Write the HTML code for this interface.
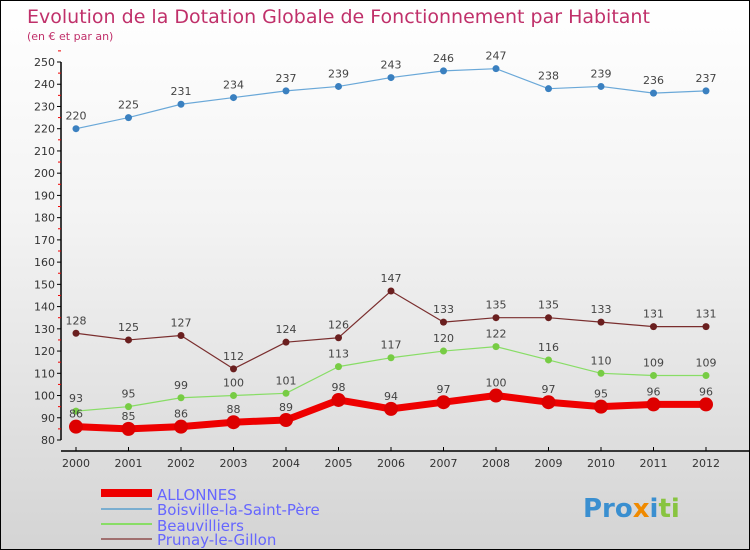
<!DOCTYPE html>
<html><head><meta charset="utf-8"><style>
body{margin:0}
#c{width:748px;height:548px;border:1px solid #000;background:linear-gradient(#fff 0%,#f3f3f3 40%,#d4d4d4 100%);position:relative;font-family:"DejaVu Sans","Liberation Sans",sans-serif;overflow:hidden}
</style></head><body>
<div id="c">
<svg id="s" width="748" height="548" xmlns="http://www.w3.org/2000/svg">
<text x="26" y="22" font-size="19" fill="#c0306a">Evolution de la Dotation Globale de Fonctionnement par Habitant</text>
<text x="26" y="39" font-size="11" fill="#c0306a">(en € et par an)</text>
<g id="axes"></g><g id="series"></g>
<g>
<line x1="100" y1="492" x2="151" y2="492" stroke="#e00" stroke-width="8"/>
<text x="156" y="499" font-size="15" fill="#66f">ALLONNES</text>
<line x1="100" y1="508" x2="151" y2="508" stroke="#7aaed0" stroke-width="2"/>
<text x="156" y="514" font-size="15" fill="#66f">Boisville-la-Saint-Père</text>
<line x1="100" y1="523" x2="151" y2="523" stroke="#88dd66" stroke-width="2"/>
<text x="156" y="530" font-size="15" fill="#66f">Beauvilliers</text>
<line x1="100" y1="538" x2="151" y2="538" stroke="#a07070" stroke-width="2"/>
<text x="156" y="544" font-size="15" fill="#66f">Prunay-le-Gillon</text>
</g>
<text x="582" y="516" font-size="26" font-weight="bold"><tspan fill="#3a8fd0">Pro</tspan><tspan fill="#f08a00">x</tspan><tspan fill="#3a8fd0">i</tspan><tspan fill="#88c440">ti</tspan></text>
</svg></div>
<script>
const years=[2000,2001,2002,2003,2004,2005,2006,2007,2008,2009,2010,2011,2012];
const allonnes=[86,85,86,88,89,98,94,97,100,97,95,96,96];
const boisville=[220,225,231,234,237,239,243,246,247,238,239,236,237];
const beauvilliers=[93,95,99,100,101,113,117,120,122,116,110,109,109];
const prunay=[128,125,127,112,124,126,147,133,135,135,133,131,131];
const yTicks=[80,90,100,110,120,130,140,150,160,170,180,190,200,210,220,230,240,250];
const NS="http://www.w3.org/2000/svg";
function x(i){return 75+i*52.5;}
function y(v){return 439-(v-80)*(378/170);}
function mk(t,a,p){const e=document.createElementNS(NS,t);for(const k in a)e.setAttribute(k,a[k]);if(p)p.appendChild(e);return e;}
const ax=document.getElementById('axes'),se=document.getElementById('series');
let a=mk('line',{x1:60,y1:y(250),x2:60,y2:y(80),stroke:'#000','stroke-width':1.5},ax);

yTicks.forEach(v=>{mk('line',{x1:56,y1:y(v),x2:60,y2:y(v),stroke:'#000'},ax);
mk('line',{x1:57,y1:y(v+5),x2:60,y2:y(v+5),stroke:'#e00'},ax);
const t=mk('text',{x:54,y:y(v)+4,'font-size':11,fill:'#333','text-anchor':'end'},ax);t.textContent=v;
});
a=mk('line',{x1:60,y1:450,x2:748,y2:450,stroke:'#000','stroke-width':1.5},ax);

years.forEach((yr,i)=>{mk('line',{x1:x(i),y1:446,x2:x(i),y2:450,stroke:'#000'},ax);
const t=mk('text',{x:x(i),y:466,'font-size':11,fill:'#333','text-anchor':'middle'},ax);t.textContent=yr;
});
function draw(vals,col,dot,w,r,name){
const g=mk('g',{},se);
mk('polyline',{points:vals.map((v,i)=>x(i)+','+y(v)).join(' '),fill:'none',stroke:col,'stroke-width':w,'stroke-linejoin':'round'},g);
vals.forEach((v,i)=>{const c=mk('circle',{cx:x(i),cy:y(v),r:r,fill:dot},g);

const t=mk('text',{x:x(i),y:y(v)-9,'font-size':11,fill:'#444','text-anchor':'middle'},g);t.textContent=v;
});}
draw(prunay,'#7a2e2e','#6a1f1f',1.2,3.5,'series-prunay');
draw(beauvilliers,'#88dd66','#77cc44',1.2,3.5,'series-beauvilliers');
draw(boisville,'#6aa8d8','#3a80c0',1.2,3.5,'series-boisville');
draw(allonnes,'#ee0000','#dd0000',7,7,'series-allonnes');
</script>
</body></html>
